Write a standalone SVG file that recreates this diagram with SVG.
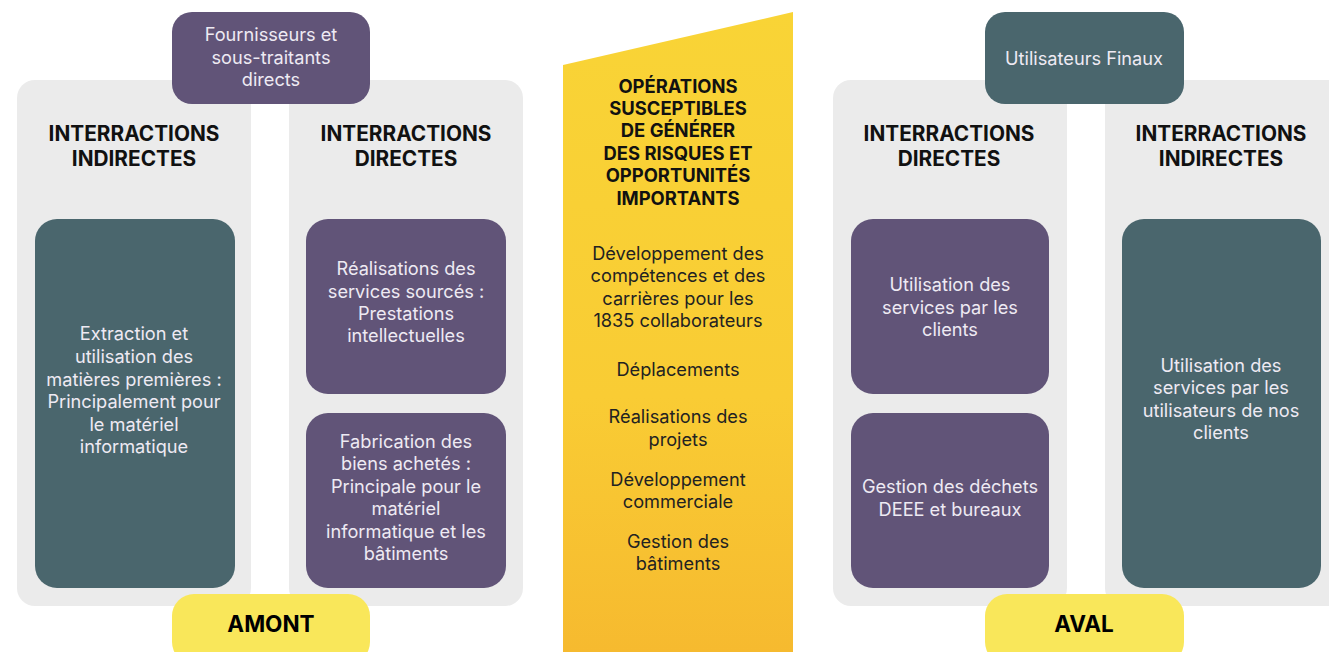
<svg xmlns="http://www.w3.org/2000/svg" width="1329" height="652" viewBox="0 0 1329 652">
<defs>
<linearGradient id="yg" x1="0" y1="0" x2="0" y2="1">
<stop offset="0" stop-color="#f9d436"/>
<stop offset="0.6" stop-color="#f9cc34"/>
<stop offset="1" stop-color="#f6ba2f"/>
</linearGradient>
<style>
.panel{fill:#ebebeb}
.purple{fill:#615478}
.teal{fill:#4a666d}
.pill{fill:#f9e75a}
.t{font-family:Inter,"Noto Sans","Liberation Sans",sans-serif;font-size:18.2px;fill:#eeeaf3;text-anchor:middle}
.h{font-family:Inter,"Noto Sans","Liberation Sans",sans-serif;font-size:20.8px;font-weight:700;fill:#111;text-anchor:middle}
.y{font-family:Inter,"Noto Sans","Liberation Sans",sans-serif;font-size:18.2px;fill:#222;text-anchor:middle}
.yb{font-family:Inter,"Noto Sans","Liberation Sans",sans-serif;font-size:18.4px;font-weight:700;fill:#111;text-anchor:middle}
.p{font-family:Inter,"Noto Sans","Liberation Sans",sans-serif;font-size:22.5px;font-weight:700;fill:#000;text-anchor:middle}
</style>
</defs>
<rect width="1329" height="652" fill="#ffffff"/>

<g id="panels">
<rect class="panel" x="17" y="80" width="234" height="526" rx="18"/>
<rect class="panel" x="289" y="80" width="234" height="526" rx="18"/>
<rect class="panel" x="833" y="80" width="234" height="526" rx="18"/>
<rect class="panel" x="1105" y="80" width="240" height="526" rx="18"/>
</g>

<g id="headings">
<text class="h" x="134" y="141">INTERRACTIONS</text>
<text class="h" x="134" y="166">INDIRECTES</text>
<text class="h" x="406" y="141">INTERRACTIONS</text>
<text class="h" x="406" y="166">DIRECTES</text>
<text class="h" x="949" y="141">INTERRACTIONS</text>
<text class="h" x="949" y="166">DIRECTES</text>
<text class="h" x="1221" y="141">INTERRACTIONS</text>
<text class="h" x="1221" y="166">INDIRECTES</text>
</g>

<g id="fournisseurs">
<rect class="purple" x="172" y="12" width="198" height="92" rx="20"/>
<text class="t" x="271" y="41">Fournisseurs et</text>
<text class="t" x="271" y="64">sous-traitants</text>
<text class="t" x="271" y="86">directs</text>
</g>

<g id="utilisateurs">
<rect class="teal" x="985" y="12" width="199" height="92" rx="20"/>
<text class="t" x="1084" y="65">Utilisateurs Finaux</text>
</g>

<g id="extraction">
<rect class="teal" x="35" y="219" width="200" height="369" rx="22"/>
<text class="t" x="134" y="340">Extraction et</text>
<text class="t" x="134" y="363">utilisation des</text>
<text class="t" x="134" y="386">matières premières :</text>
<text class="t" x="134" y="408">Principalement pour</text>
<text class="t" x="134" y="431">le matériel</text>
<text class="t" x="134" y="453">informatique</text>
</g>

<g id="realisations">
<rect class="purple" x="306" y="219" width="200" height="175" rx="22"/>
<text class="t" x="406" y="275">Réalisations des</text>
<text class="t" x="406" y="298">services sourcés :</text>
<text class="t" x="406" y="320">Prestations</text>
<text class="t" x="406" y="342">intellectuelles</text>
</g>

<g id="fabrication">
<rect class="purple" x="306" y="413" width="200" height="175" rx="22"/>
<text class="t" x="406" y="448">Fabrication des</text>
<text class="t" x="406" y="470">biens achetés :</text>
<text class="t" x="406" y="493">Principale pour le</text>
<text class="t" x="406" y="515">matériel</text>
<text class="t" x="406" y="538">informatique et les</text>
<text class="t" x="406" y="560">bâtiments</text>
</g>

<g id="operations">
<polygon points="563,65 793,12 793,652 563,652" fill="url(#yg)"/>
<text class="yb" x="678" y="93">OPÉRATIONS</text>
<text class="yb" x="678" y="115">SUSCEPTIBLES</text>
<text class="yb" x="678" y="137">DE GÉNÉRER</text>
<text class="yb" x="678" y="160">DES RISQUES ET</text>
<text class="yb" x="678" y="182">OPPORTUNITÉS</text>
<text class="yb" x="678" y="205">IMPORTANTS</text>
<text class="y" x="678" y="260">Développement des</text>
<text class="y" x="678" y="282">compétences et des</text>
<text class="y" x="678" y="305">carrières pour les</text>
<text class="y" x="678" y="327">1835 collaborateurs</text>
<text class="y" x="678" y="376">Déplacements</text>
<text class="y" x="678" y="423">Réalisations des</text>
<text class="y" x="678" y="446">projets</text>
<text class="y" x="678" y="486">Développement</text>
<text class="y" x="678" y="508">commerciale</text>
<text class="y" x="678" y="548">Gestion des</text>
<text class="y" x="678" y="570">bâtiments</text>
</g>

<g id="utilisation-clients">
<rect class="purple" x="851" y="219" width="198" height="175" rx="22"/>
<text class="t" x="950" y="291">Utilisation des</text>
<text class="t" x="950" y="314">services par les</text>
<text class="t" x="950" y="336">clients</text>
</g>

<g id="dechets">
<rect class="purple" x="851" y="413" width="198" height="175" rx="22"/>
<text class="t" x="950" y="493">Gestion des déchets</text>
<text class="t" x="950" y="516">DEEE et bureaux</text>
</g>

<g id="utilisation-utilisateurs">
<rect class="teal" x="1122" y="219" width="199" height="369" rx="22"/>
<text class="t" x="1221" y="372">Utilisation des</text>
<text class="t" x="1221" y="394">services par les</text>
<text class="t" x="1221" y="417">utilisateurs de nos</text>
<text class="t" x="1221" y="439">clients</text>
</g>

<g id="amont">
<rect class="pill" x="172" y="594" width="198" height="70" rx="22"/>
<text class="p" x="271" y="632">AMONT</text>
</g>

<g id="aval">
<rect class="pill" x="985" y="594" width="199" height="70" rx="22"/>
<text class="p" x="1084" y="632">AVAL</text>
</g>

<g id="connectors"/>
</svg>
